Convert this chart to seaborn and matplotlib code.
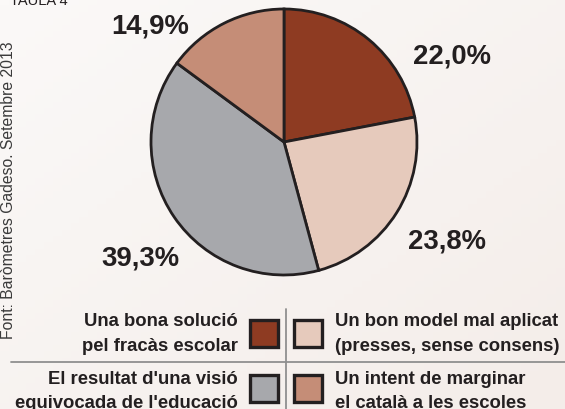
import matplotlib
matplotlib.use("Agg")
import matplotlib.pyplot as plt
from matplotlib.patches import Rectangle
from matplotlib.colors import LinearSegmentedColormap
import numpy as np
import seaborn as sns

# %%
categories = ["Una bona solució\npel fracàs escolar",
              "Un bon model mal aplicat\n(presses, sense consens)",
              "El resultat d'una visió\nequivocada de l'educació",
              "Un intent de marginar\nel català a les escoles"]
values = [22.0, 23.8, 39.3, 14.9]
value_labels = ["22,0%", "23,8%", "39,3%", "14,9%"]
colors = ["#8E3B22", "#E6CABC", "#A7A8AC", "#C58D77"]
title = "TAULA 4"
source = "Font: Baròmetres Gadeso. Setembre 2013"

# %%
sns.set_theme(style="white")
plt.rcParams['font.family'] = ['Liberation Sans', 'DejaVu Sans']
palette = sns.color_palette(colors)

W, H = 565, 410
bg = "#F7F2EF"
ink = "#231F20"
fig = plt.figure(figsize=(W / 100, H / 100), dpi=100, facecolor=bg)
ax = fig.add_axes([0, 0, 1, 1])
ax.set_facecolor(bg)

def Y(y):
    # pixel row from top -> data y
    return H - y

# soft background shading, lighter towards the top left
gx, gy = np.meshgrid(np.linspace(0, 1, 64), np.linspace(0, 1, 64))
shade = (gx + (1 - gy)) / 2
bg_cmap = LinearSegmentedColormap.from_list("bg", ["#FBF9F8", "#F4EDE9"])
ax.imshow(shade, extent=(0, W, 0, H), cmap=bg_cmap, origin='lower',
          aspect='auto', zorder=0)

wedges, _ = ax.pie(values, colors=palette, startangle=90, counterclock=False,
                   center=(284, Y(143)), radius=133, frame=True,
                   wedgeprops=dict(edgecolor=ink, linewidth=2.0, zorder=2))
ax.set_xlim(0, W)
ax.set_ylim(0, H)
ax.set_aspect('equal')
ax.axis('off')

# percentage labels
label_pos = [(452, 57), (447, 242), (140, 258), (150, 27)]
for (x, y), txt in zip(label_pos, value_labels):
    ax.text(x, Y(y), txt, ha='center', va='center', fontsize=19.8,
            fontweight='bold', color=ink)

# header and source
ax.text(10, Y(5), title, ha='left', va='baseline', fontsize=10.5, color=ink)
ax.text(8, Y(339), source, rotation=90, ha='center', va='bottom',
        fontsize=11.3, color="#3A3A3A")

# legend grid
ax.plot([11, W], [Y(363), Y(363)], color="#8F8F8F", lw=1.3)
ax.plot([286, 286], [Y(310), Y(H)], color="#8F8F8F", lw=1.3)

rows = [(321, 348, 322, 347), (376, 403, 380, 404)]
for i, cat in enumerate(categories):
    r, side = divmod(i, 2)
    top, bot, l1, l2 = rows[r]
    sx = 250 if side == 0 else 294
    ax.add_patch(Rectangle((sx, Y(bot)), 28, bot - top, facecolor=palette[i],
                           edgecolor=ink, lw=2.4, zorder=3))
    line1, line2 = cat.split("\n")
    if side == 0:
        x, ha = 238, 'right'
    else:
        x, ha = 335, 'left'
    ax.text(x, Y(l1), line1, ha=ha, va='center', fontsize=13.3,
            fontweight='bold', color=ink)
    ax.text(x, Y(l2), line2, ha=ha, va='center', fontsize=13.3,
            fontweight='bold', color=ink)

fig.savefig("out.png", dpi=100, facecolor=bg)
